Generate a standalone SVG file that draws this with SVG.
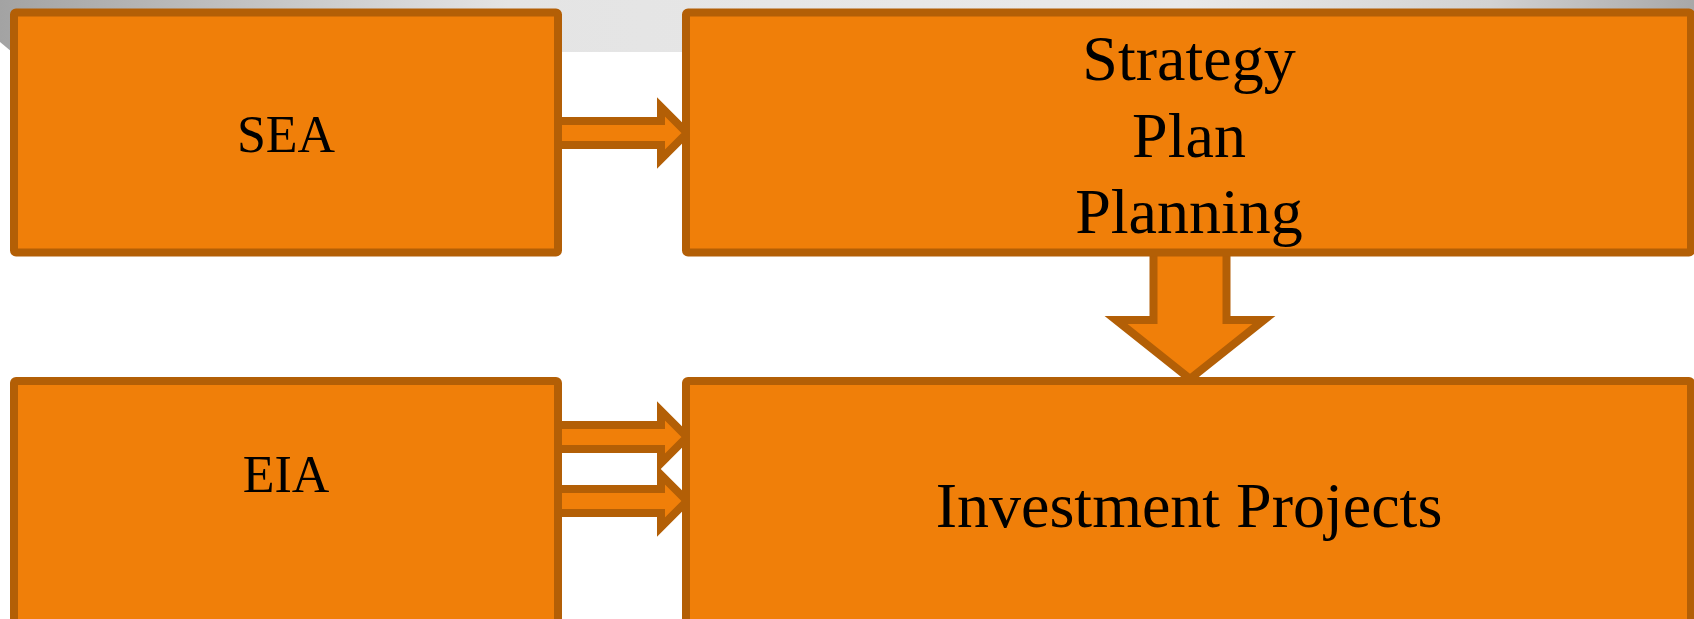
<svg xmlns="http://www.w3.org/2000/svg" width="1694" height="619" viewBox="0 0 1694 619">
<defs>
<linearGradient id="band" x1="0" y1="0" x2="1" y2="0">
<stop offset="0" stop-color="#a3a3a3"/>
<stop offset="0.3" stop-color="#e4e4e4"/>
<stop offset="0.7" stop-color="#e9e9e9"/>
<stop offset="0.88" stop-color="#d2d2d2"/>
<stop offset="1" stop-color="#a8a8a8"/>
</linearGradient>
<style>
.box{fill:#F07F09;stroke:#B35F06;stroke-width:8;stroke-linejoin:round}
.arr{fill:#F07F09;stroke:#B35F06;stroke-width:8;stroke-linejoin:miter;stroke-miterlimit:10}
.lbl{font-family:"Liberation Serif","Times New Roman",serif;fill:#000;text-anchor:middle}
.s{font-size:52px}
.l{font-size:64px}
</style>
</defs>
<rect width="1694" height="619" fill="#ffffff"/>
<path d="M0 0 H1694 V52 H12 L0 42 Z" fill="url(#band)"/>
<g id="connectors">
<polygon class="arr" points="556,121 661,121 661,107 687,133 661,159 661,145 556,145"/>
<polygon class="arr" points="556,425 661,425 661,411 687,437 661,463 661,449 556,449"/>
<polygon class="arr" points="556,489 661,489 661,475 687,501 661,527 661,513 556,513"/>
<polygon class="arr" points="1153.5,250 1226.5,250 1226.5,320 1264,320 1190,379 1116,320 1153.5,320"/>
</g>
<g id="node-sea">
<rect class="box" x="14" y="12.5" width="544" height="240" rx="2"/>
<text class="lbl s" x="286" y="152">SEA</text>
</g>
<g id="node-strategy">
<rect class="box" x="686" y="12.5" width="1005" height="240" rx="2"/>
<text class="lbl l" x="1189" y="79.5">Strategy</text>
<text class="lbl l" x="1189" y="156.5">Plan</text>
<text class="lbl l" x="1189" y="233">Planning</text>
</g>
<g id="node-eia">
<rect class="box" x="14" y="381" width="544" height="260" rx="2"/>
<text class="lbl s" x="286" y="492">EIA</text>
</g>
<g id="node-investment">
<rect class="box" x="686" y="381" width="1005" height="260" rx="2"/>
<text class="lbl l" x="1189" y="526.5">Investment Projects</text>
</g>
</svg>
